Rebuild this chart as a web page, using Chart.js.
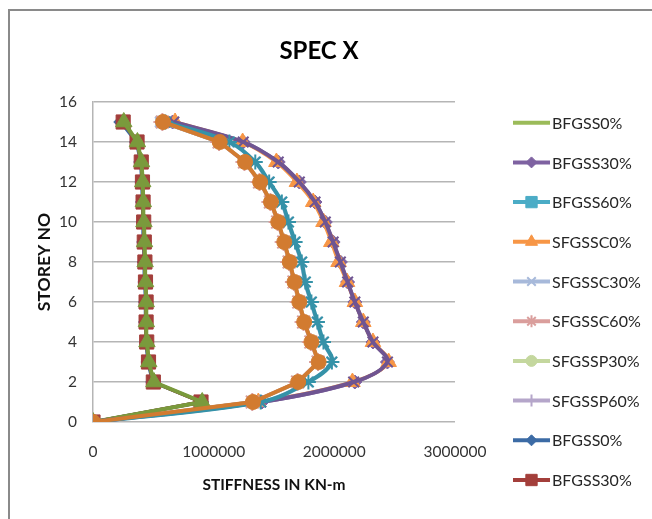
<!DOCTYPE html>
<html><head><meta charset="utf-8">
<script src="https://cdn.jsdelivr.net/npm/chart.js@4"></script>
<style>
html,body{margin:0;padding:0;background:#fff;}
#wrap{position:relative;width:652px;height:519px;overflow:hidden;}
#frame{position:absolute;left:8px;top:9px;width:700px;height:600px;border-left:2px solid #8a8a8a;border-top:2px solid #8a8a8a;}
canvas{position:absolute;left:0;top:0;}
</style></head><body>
<div id="wrap"><div id="frame"></div><canvas id="c" width="652" height="519" style="width:652px;height:519px"></canvas></div>
<script>
// ---- data (storey 0..15) ----
const storeys = [0,1,2,3,4,5,6,7,8,9,10,11,12,13,14,15];
const xTicks = [0,1000000,2000000,3000000];
const yTicks = [0,2,4,6,8,10,12,14,16];
const titleText = 'SPEC X';
const xTitle = 'STIFFNESS IN KN-m';
const yTitle = 'STOREY NO';

const bfgss0   = [0,900000,500000,460000,445000,440000,440000,435000,430000,425000,420000,415000,410000,400000,365000,250000];
const bfgss30  = [0,1400000,2170000,2440000,2320000,2240000,2170000,2110000,2050000,1990000,1925000,1840000,1710000,1535000,1245000,660000];
const bfgss60  = [0,1330000,1700000,1870000,1810000,1750000,1710000,1670000,1630000,1585000,1535000,1475000,1385000,1260000,1050000,570000];
const sfgssc0  = [0,1370000,2150000,2450000,2320000,2240000,2170000,2105000,2035000,1975000,1910000,1825000,1690000,1520000,1240000,680000];
const sfgssc30 = [0,1385000,1780000,1975000,1905000,1855000,1805000,1755000,1725000,1670000,1615000,1560000,1455000,1340000,1125000,555000];
const sfgssc60 = [0,1320000,1695000,1865000,1805000,1745000,1705000,1665000,1625000,1580000,1530000,1470000,1380000,1255000,1045000,575000];
const sfgssp30 = [0,1325000,1700000,1870000,1810000,1750000,1710000,1670000,1630000,1585000,1535000,1475000,1385000,1260000,1050000,580000];
const sfgssp60 = [0,1325000,1700000,1868000,1808000,1748000,1708000,1668000,1628000,1583000,1533000,1473000,1383000,1258000,1048000,578000];
const bfgss0b  = [0,900000,495000,455000,440000,435000,435000,430000,425000,420000,415000,410000,405000,395000,360000,230000];
const bfgss30b = [0,895000,500000,460000,445000,440000,440000,435000,430000,425000,420000,415000,410000,400000,365000,250000];
const extraTri    = [0,905000,505000,462000,447000,442000,441000,436000,432000,427000,422000,417000,412000,402000,368000,255000];
const extraCross  = [0,1390000,2160000,2440000,2320000,2240000,2170000,2110000,2050000,1990000,1925000,1840000,1710000,1535000,1245000,670000];
const extraStar   = [0,1390000,1785000,1980000,1910000,1860000,1810000,1760000,1730000,1675000,1620000,1565000,1460000,1345000,1130000,600000];
const extraCircle = [0,1325000,1700000,1870000,1810000,1750000,1710000,1670000,1630000,1585000,1535000,1475000,1385000,1260000,1050000,580000];

const legendCount = 10;

function pts(vals){ return vals.map((v,i)=>({x:v, y:storeys[i]})); }

const seriesDefs = [
  {label:'BFGSS0%',   vals:bfgss0,   color:'#9BBB59', style:'circle',   r:0,  lr:0,   bw:3.5, tension:0},
  {label:'BFGSS30%',  vals:bfgss30,  color:'#7E62A1', style:'rectRot',  r:7,  lr:5.5, bw:3.5, tension:0.35},
  {label:'BFGSS60%',  vals:bfgss60,  color:'#4BACC6', style:'rect',     r:8,  lr:8,   bw:3.5, tension:0},
  {label:'SFGSSC0%',  vals:sfgssc0,  color:'#F79646', style:'triangle', r:9,  lr:7,   bw:3.5, tension:0.35},
  {label:'SFGSSC30%', vals:sfgssc30, color:'#A7B9DA', style:'crossRot', r:7,  lr:6,   bw:3.5, tension:0.35},
  {label:'SFGSSC60%', vals:sfgssc60, color:'#DA9E9C', style:'star',     r:9,  lr:6,   bw:3.5, tension:0},
  {label:'SFGSSP30%', vals:sfgssp30, color:'#C4D79E', style:'circle',   r:6,  lr:5.5, bw:3.5, tension:0},
  {label:'SFGSSP60%', vals:sfgssp60, color:'#B5A6CA', style:'cross',    r:6,  lr:6,   bw:3.5, tension:0},
  {label:'BFGSS0%',   vals:bfgss0b,  color:'#3C6BA5', style:'rectRot',  r:7,  lr:5.5, bw:3.5, tension:0},
  {label:'BFGSS30%',  vals:bfgss30b, color:'#A33F3B', style:'rect',     r:10, lr:8,   bw:3.5, tension:0},
  {label:'BFGSS60%',  vals:extraTri,    color:'#7A9A3C', style:'triangle', r:9.5,lr:7, bw:4, tension:0},
  {label:'SFGSSC0%',  vals:extraCross,  color:'#6F5592', style:'crossRot', r:7.5,lr:6, bw:4, tension:0.35},
  {label:'SFGSSC30%', vals:extraStar,   color:'#3592A8', style:'star',     r:7.5,lr:6, bw:4, tension:0.35},
  {label:'SFGSSC60%', vals:extraCircle, color:'#D27B30', style:'circle',   r:7.5,lr:6, bw:4, tension:0}
];

const datasets = seriesDefs.map((s,i)=>({
  label: s.label,
  data: pts(s.vals),
  showLine: true,
  borderColor: s.color,
  backgroundColor: s.color,
  borderWidth: s.bw,
  pointStyle: s.style,
  pointRadius: s.r,
  pointBackgroundColor: s.color,
  pointBorderColor: s.color,
  pointBorderWidth: (s.style==='crossRot'||s.style==='star'||s.style==='cross') ? 2 : 1,
  tension: s.tension,
  order: seriesDefs.length - i,
  legendRadius: s.lr
}));

const overlay = {
  id:'overlay',
  afterDraw(chart){
    const ctx = chart.ctx;
    ctx.save();
    ctx.fillStyle = '#000';
    ctx.font = 'bold 24px Lato';
    ctx.textAlign = 'center';
    ctx.textBaseline = 'middle';
    ctx.fillText(titleText, 319, 51);
    // legend
    for(let i=0;i<legendCount;i++){
      const ds = chart.data.datasets[i];
      const y = 122.7 + i*39.7;
      ctx.strokeStyle = ds.borderColor;
      ctx.lineWidth = 4;
      ctx.beginPath(); ctx.moveTo(513,y); ctx.lineTo(550,y); ctx.stroke();
      if(ds.legendRadius>0){
        ctx.fillStyle = ds.pointBackgroundColor;
        ctx.strokeStyle = ds.pointBorderColor;
        ctx.lineWidth = ds.pointBorderWidth;
        Chart.helpers.drawPoint(ctx,{pointStyle:ds.pointStyle,radius:ds.legendRadius,rotation:0,borderWidth:ds.pointBorderWidth},531.5,y);
      }
      ctx.fillStyle = '#262626';
      ctx.font = '16px Lato';
      ctx.textAlign = 'left';
      ctx.textBaseline = 'middle';
      ctx.fillText(ds.label, 552, y+1);
    }
    ctx.restore();
  }
};

new Chart(document.getElementById('c'), {
  type:'scatter',
  data:{datasets},
  plugins:[overlay],
  options:{
    responsive:false, animation:false, events:[],
    layout:{padding:{left:30, top:102, right:197, bottom:21}},
    plugins:{legend:{display:false}, tooltip:{enabled:false}, title:{display:false}},
    scales:{
      x:{type:'linear', min:0, max:3000000,
         afterBuildTicks: s => { s.ticks = xTicks.map(v=>({value:v})); },
         ticks:{callback:v=>String(v), font:{family:'Lato', size:15.5}, color:'#333', padding:21, maxRotation:0, autoSkip:false},
         grid:{display:false, drawTicks:false}, border:{display:false},
         title:{display:true, text:xTitle, font:{family:'Lato', size:15.5, weight:'bold'}, color:'#111', padding:{top:4,bottom:4}},
         afterFit: s => { s.height = 76; }
      },
      y:{type:'linear', min:0, max:16,
         afterBuildTicks: s => { s.ticks = yTicks.map(v=>({value:v})); },
         ticks:{font:{family:'Lato', size:15.5}, color:'#333', padding:16, autoSkip:false},
         grid:{color:'#b5b5b5', lineWidth:1.5, drawTicks:false},
         border:{display:true, color:'#b5b5b5', width:1.5},
         title:{display:true, text:yTitle, font:{family:'Lato', size:17.5, weight:'bold'}, color:'#111', padding:{top:4,bottom:4}},
         afterFit: s => { s.width = 63; }
      }
    }
  }
});
</script>
</body></html>
